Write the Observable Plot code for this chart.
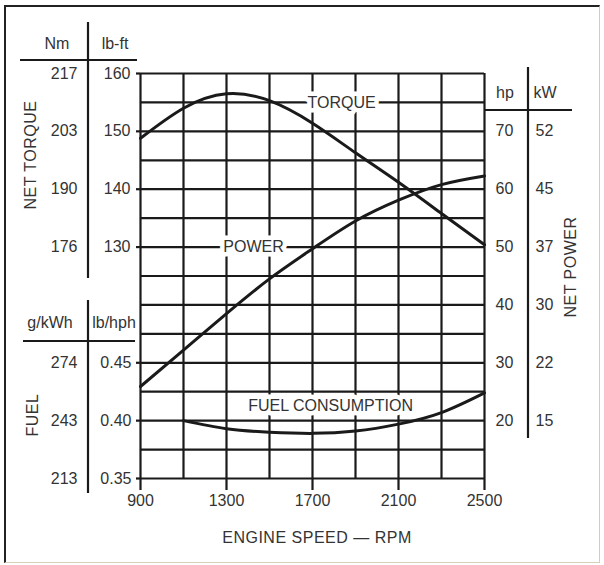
<!DOCTYPE html>
<html><head><meta charset="utf-8">
<script src="https://cdn.jsdelivr.net/npm/d3@7"></script>
<script src="https://cdn.jsdelivr.net/npm/@observablehq/plot@0.6"></script>
<style>
body{margin:0;background:#fff;}
#wrap{position:relative;width:604px;height:565px;overflow:hidden;}
#border{position:absolute;left:4px;top:5px;width:593px;height:555px;border-left:2.5px solid #222;border-top:2.5px solid #222;border-right:1.5px solid #ccc;border-bottom:1.5px solid #d8d0b8;pointer-events:none;}
svg{position:absolute;left:0;top:0;}
</style></head><body><div id="wrap"><div id="border"></div></div>
<script>
// ---- data ----
const rpm        = [900, 1100, 1300, 1500, 1700, 1900, 2100, 2300, 2500];
const torqueLbft = [148.8, 154.0, 156.5, 155.3, 151.4, 146.3, 141.2, 135.8, 130.4];
const powerHp    = [25.9, 32.2, 38.5, 44.5, 49.7, 54.5, 58.1, 60.8, 62.3];
const fuelRpm    = [1100, 1300, 1500, 1700, 1900, 2100, 2300, 2500];
const fuelLbHph  = [0.400, 0.393, 0.390, 0.389, 0.391, 0.397, 0.407, 0.424];

// axis tick labels
const xTicks      = [900, 1300, 1700, 2100, 2500];
const gridRpm     = [900, 1100, 1300, 1500, 1700, 1900, 2100, 2300, 2500];
const gridLbft    = [90, 95, 100, 105, 110, 115, 120, 125, 130, 135, 140, 145, 150, 155, 160];
const lbftTicks   = [160, 150, 140, 130];
const nmTicks     = [217, 203, 190, 176];
const hpTicks     = [70, 60, 50, 40, 30, 20];
const kwTicks     = [52, 45, 37, 30, 22, 15];
const lbhphTicks  = [0.45, 0.40, 0.35];
const gkwhTicks   = [274, 243, 213];

// the three quantities share one grid: map power and fuel onto the torque grid
const hpToY   = hp => hp + 80;                 // 70 hp on the 150 lb-ft line
const fuelToY = f  => 90 + (f - 0.35) * 200;   // 0.35 lb/hph on the 90 lb-ft line

const torque = rpm.map((r, i) => ({rpm: r, v: torqueLbft[i]}));
const power  = rpm.map((r, i) => ({rpm: r, v: powerHp[i]}));
const fuel   = fuelRpm.map((r, i) => ({rpm: r, v: fuelLbHph[i]}));

const FONT = "'Liberation Sans', Arial, Helvetica, sans-serif";
const INK = "#1a1a1a", TXT = "#333";

const labels = [
  {rpm: 1835, y: 155, text: "TORQUE"},
  {rpm: 1426, y: 130, text: "POWER"},
  {rpm: 1784, y: 102.6, text: "FUEL CONSUMPTION"}
];

const chart = Plot.plot({
  width: 604, height: 565,
  marginLeft: 140, marginRight: 120, marginTop: 73, marginBottom: 87,
  style: {fontFamily: FONT, fontSize: "16px", color: TXT, background: "transparent"},
  x: {domain: [900, 2500], axis: null, label: null},
  y: {domain: [90, 160], axis: null, label: null},
  marks: [
    Plot.ruleX(gridRpm, {stroke: INK, strokeWidth: 2.2, strokeOpacity: 1}),
    Plot.ruleY(gridLbft, {stroke: INK, strokeWidth: 2.2, strokeOpacity: 1}),
    Plot.line(torque, {x: "rpm", y: "v", curve: "natural", stroke: INK, strokeWidth: 3}),
    Plot.line(power,  {x: "rpm", y: d => hpToY(d.v), curve: "natural", stroke: INK, strokeWidth: 3}),
    Plot.line(fuel,   {x: "rpm", y: d => fuelToY(d.v), curve: "natural", stroke: INK, strokeWidth: 3}),
    Plot.text(labels, {x: "rpm", y: "y", text: "text", fill: TXT, stroke: "white", strokeWidth: 9,
                       paintOrder: "stroke", fontSize: 16, letterSpacing: 0.3}),
    // x axis
    Plot.axisX(xTicks, {tickSize: 12, tickPadding: 4, strokeWidth: 2.2, stroke: INK, fill: TXT, fontSize: 16,
                        tickFormat: d => String(d), label: null}),
    // torque axis
    Plot.axisY(lbftTicks, {anchor: "left", tickSize: 4, tickPadding: 6, strokeWidth: 2.2, stroke: INK, fill: TXT, fontSize: 16, label: null}),
    Plot.text(lbftTicks, {y: d => d, text: (d, i) => nmTicks[i], frameAnchor: "left", dx: -63, textAnchor: "end", fill: TXT, fontSize: 16}),
    // fuel axis
    Plot.axisY(lbhphTicks.map(fuelToY), {anchor: "left", tickSize: 4, tickPadding: 5, strokeWidth: 2.2, stroke: INK, fill: TXT, fontSize: 16, label: null,
               tickFormat: d => lbhphTicks[lbhphTicks.map(fuelToY).indexOf(d)].toFixed(2)}),
    Plot.text(lbhphTicks, {y: d => fuelToY(d), text: (d, i) => gkwhTicks[i], frameAnchor: "left", dx: -63, textAnchor: "end", fill: TXT, fontSize: 16}),
    // power axis
    Plot.axisY(hpTicks.map(hpToY), {anchor: "right", tickSize: 0, tickPadding: 11, fill: TXT, fontSize: 16, label: null,
               tickFormat: d => String(hpTicks[hpTicks.map(hpToY).indexOf(d)])}),
    Plot.text(hpTicks, {y: d => hpToY(d), text: (d, i) => kwTicks[i], frameAnchor: "right", dx: 51, textAnchor: "start", fill: TXT, fontSize: 16})
  ]
});

document.getElementById("wrap").appendChild(chart);

// ---- decoration: unit headers, separators and axis titles ----
const svg = d3.select(chart);
const deco = svg.append("g").attr("stroke", INK).attr("stroke-width", 2.2);
[[88, 22, 88, 278], [20, 60, 137, 60],
 [88, 300, 88, 493], [23, 341, 135, 341],
 [528, 67, 528, 438], [485, 110, 572, 110]].forEach(([x1, y1, x2, y2]) =>
  deco.append("line").attr("x1", x1).attr("y1", y1).attr("x2", x2).attr("y2", y2));

const tg = svg.append("g").attr("fill", TXT).attr("font-family", FONT).attr("font-size", 16).attr("text-anchor", "middle");
[["Nm", 57, 43], ["lb-ft", 115, 43], ["g/kWh", 50, 322], ["lb/hph", 114, 322], ["hp", 505, 92], ["kW", 545, 92],
 ["ENGINE SPEED \u2014 RPM", 317, 537]].forEach(([t, x, y]) =>
  tg.append("text").attr("x", x).attr("y", y).attr("dy", "0.35em").attr("letter-spacing", t.length > 10 ? 0.5 : 0).text(t));
[["NET TORQUE", 30, 155], ["FUEL", 32, 415], ["NET POWER", 570, 267]].forEach(([t, x, y]) =>
  tg.append("text").attr("transform", `translate(${x},${y}) rotate(-90)`).attr("dy", "0.35em").attr("letter-spacing", 0.5).text(t));
</script></body></html>
